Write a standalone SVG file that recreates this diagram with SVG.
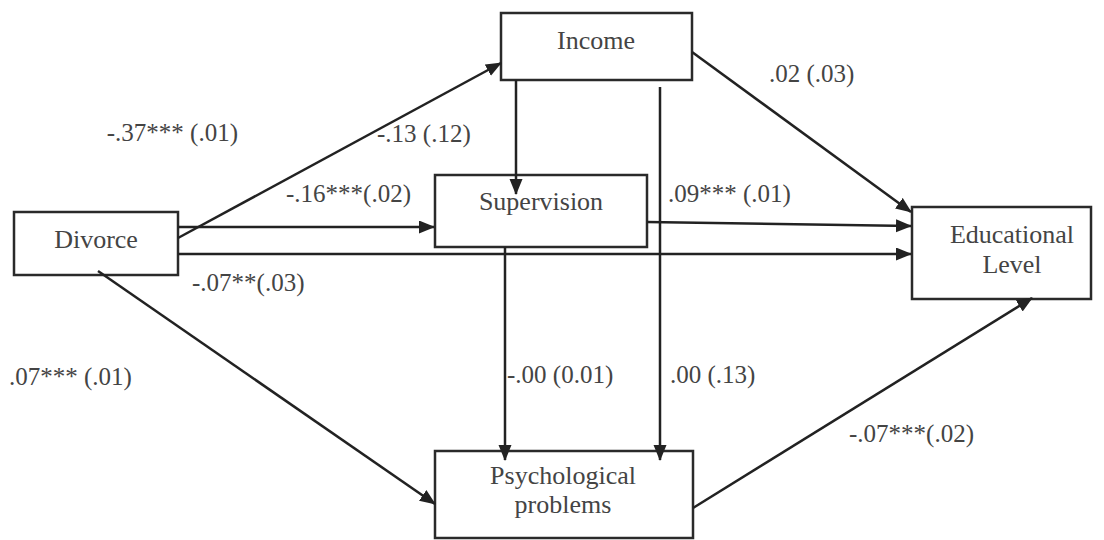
<svg xmlns="http://www.w3.org/2000/svg" width="1104" height="540" viewBox="0 0 1104 540">
<style>
.box{fill:#fff;stroke:#2a2a2a;stroke-width:2.5}
.node{font-family:"Liberation Serif","Times New Roman",serif;font-size:26px;fill:#444;text-anchor:middle}
.lbl{font-family:"Liberation Serif","Times New Roman",serif;font-size:25px;fill:#444}
.edge{fill:none;stroke:#222;stroke-width:2.5;marker-end:url(#ah)}
</style>
<defs>
<marker id="ah" markerUnits="userSpaceOnUse" markerWidth="16" markerHeight="14" refX="15" refY="6.5" orient="auto">
<path d="M0,0 L16,6.5 L0,13 z" fill="#222"/>
</marker>
</defs>
<rect width="1104" height="540" fill="#fff"/>
<g id="divorce">
<rect class="box" x="14" y="212" width="164" height="63"/>
<text class="node" x="96" y="248">Divorce</text>
</g>
<g id="income">
<rect class="box" x="501" y="13" width="191" height="67"/>
<text class="node" x="596" y="49">Income</text>
</g>
<g id="supervision">
<rect class="box" x="435" y="175" width="212" height="72"/>
<text class="node" x="541" y="210">Supervision</text>
</g>
<g id="educational">
<rect class="box" x="912" y="207" width="179" height="92"/>
<text class="node" x="1012" y="243">Educational</text>
<text class="node" x="1012" y="273">Level</text>
</g>
<g id="psych">
<rect class="box" x="435" y="451" width="258" height="87"/>
<text class="node" x="563" y="484">Psychological</text>
<text class="node" x="563" y="513">problems</text>
</g>
<g id="connectors">
<line class="edge" x1="178" y1="238" x2="501" y2="63"/>
<line class="edge" x1="178" y1="227" x2="434" y2="227"/>
<line class="edge" x1="178" y1="254" x2="911" y2="254"/>
<line class="edge" x1="98" y1="271" x2="435" y2="504"/>
<line class="edge" x1="516" y1="80" x2="516" y2="194"/>
<line class="edge" x1="660" y1="87" x2="660" y2="460"/>
<line class="edge" x1="692" y1="52" x2="911" y2="212"/>
<line class="edge" x1="647" y1="222" x2="911" y2="226"/>
<line class="edge" x1="505" y1="247" x2="505" y2="460"/>
<line class="edge" x1="693" y1="508" x2="1032" y2="298"/>
</g>
<g id="labels">
<text class="lbl" x="238" y="141" text-anchor="end">-.37*** (.01)</text>
<text class="lbl" x="377" y="142">-.13 (.12)</text>
<text class="lbl" x="286" y="202">-.16***(.02)</text>
<text class="lbl" x="192" y="291">-.07**(.03)</text>
<text class="lbl" x="9" y="385">.07*** (.01)</text>
<text class="lbl" x="769" y="82">.02 (.03)</text>
<text class="lbl" x="668" y="202">.09*** (.01)</text>
<text class="lbl" x="507" y="383">-.00 (0.01)</text>
<text class="lbl" x="670" y="383">.00 (.13)</text>
<text class="lbl" x="849" y="442">-.07***(.02)</text>
</g>
</svg>
